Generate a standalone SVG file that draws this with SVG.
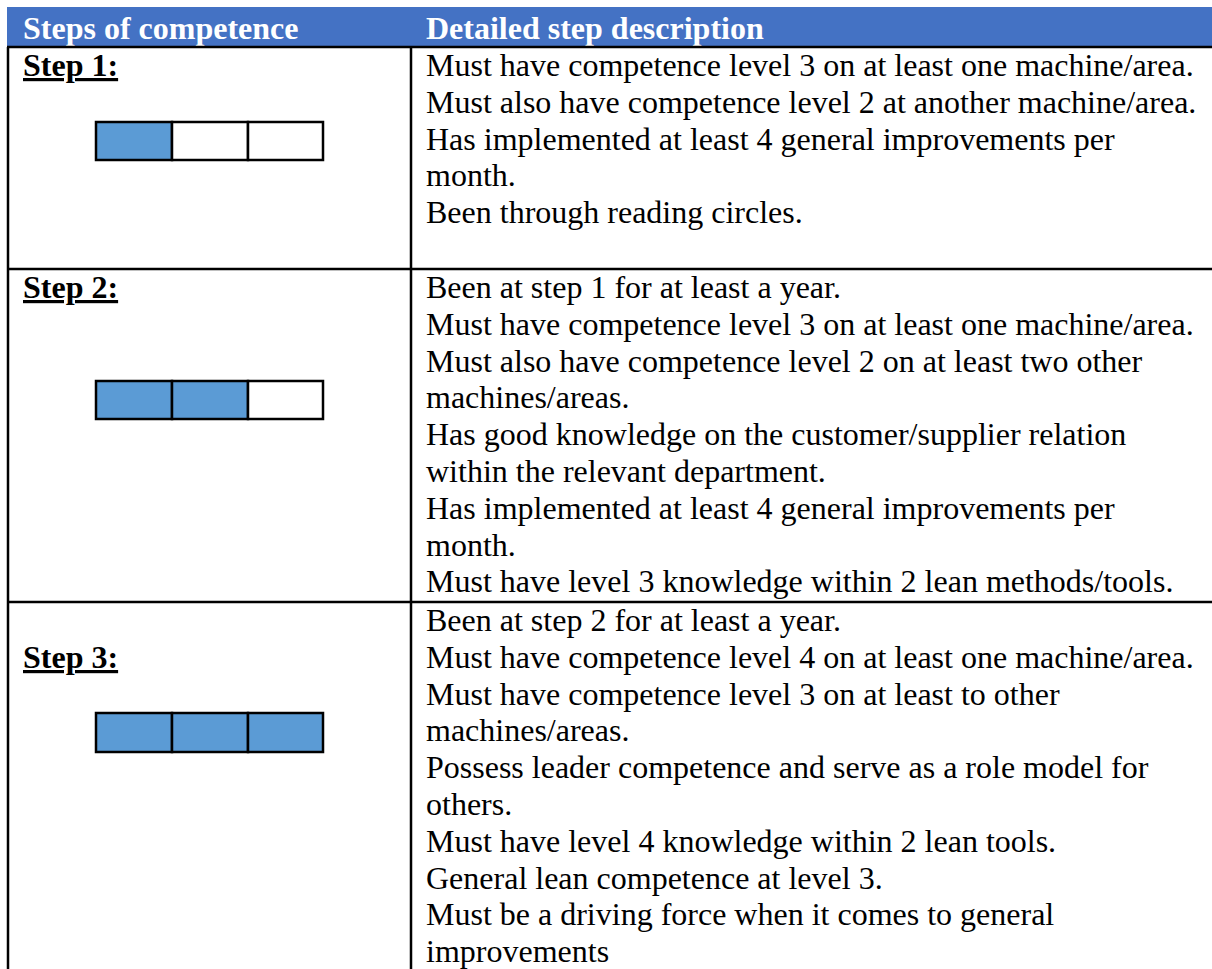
<svg xmlns="http://www.w3.org/2000/svg" width="1212" height="969" viewBox="0 0 1212 969">
<style>
.t{font-family:"Liberation Serif","Times New Roman",serif;font-size:32px;fill:#000}
.h{font-family:"Liberation Serif","Times New Roman",serif;font-size:32px;font-weight:bold;fill:#fff}
.s{font-family:"Liberation Serif","Times New Roman",serif;font-size:32px;font-weight:bold;fill:#000;text-decoration:underline}
.grid{stroke:#000;stroke-width:2.5;fill:none}
.cell{stroke:#000;stroke-width:2.5}
.on{fill:#5B9BD5}
.off{fill:#fff}
</style>
<rect x="7" y="7" width="1205" height="40" fill="#4472C4"/>
<g id="header">
<text class="h" x="23" y="39">Steps of competence</text>
<text class="h" x="426" y="39">Detailed step description</text>
</g>
<g id="grid" class="grid">
<line x1="7" y1="47" x2="1212" y2="47"/>
<line x1="8" y1="47" x2="8" y2="969"/>
<line x1="411" y1="47" x2="411" y2="969"/>
<line x1="7" y1="269" x2="1212" y2="269"/>
<line x1="7" y1="602" x2="1212" y2="602"/>
</g>
<g id="step1">
<text class="s" x="23" y="76">Step 1:</text>
<rect class="cell on" x="96" y="122" width="76" height="38"/>
<rect class="cell off" x="172" y="122" width="76" height="38"/>
<rect class="cell off" x="248" y="122" width="75" height="38"/>
<text class="t" x="426" y="76">Must have competence level 3 on at least one machine/area.</text>
<text class="t" x="426" y="112.8">Must also have competence level 2 at another machine/area.</text>
<text class="t" x="426" y="149.6">Has implemented at least 4 general improvements per</text>
<text class="t" x="426" y="186.4">month.</text>
<text class="t" x="426" y="223.2">Been through reading circles.</text>
</g>
<g id="step2">
<text class="s" x="23" y="298">Step 2:</text>
<rect class="cell on" x="96" y="381" width="76" height="38"/>
<rect class="cell on" x="172" y="381" width="76" height="38"/>
<rect class="cell off" x="248" y="381" width="75" height="38"/>
<text class="t" x="426" y="298">Been at step 1 for at least a year.</text>
<text class="t" x="426" y="334.8">Must have competence level 3 on at least one machine/area.</text>
<text class="t" x="426" y="371.6">Must also have competence level 2 on at least two other</text>
<text class="t" x="426" y="408.4">machines/areas.</text>
<text class="t" x="426" y="445.2">Has good knowledge on the customer/supplier relation</text>
<text class="t" x="426" y="482">within the relevant department.</text>
<text class="t" x="426" y="518.8">Has implemented at least 4 general improvements per</text>
<text class="t" x="426" y="555.6">month.</text>
<text class="t" x="426" y="592.4">Must have level 3 knowledge within 2 lean methods/tools.</text>
</g>
<g id="step3">
<text class="s" x="23" y="668">Step 3:</text>
<rect class="cell on" x="96" y="713" width="76" height="39"/>
<rect class="cell on" x="172" y="713" width="76" height="39"/>
<rect class="cell on" x="248" y="713" width="75" height="39"/>
<text class="t" x="426" y="631">Been at step 2 for at least a year.</text>
<text class="t" x="426" y="667.8">Must have competence level 4 on at least one machine/area.</text>
<text class="t" x="426" y="704.6">Must have competence level 3 on at least to other</text>
<text class="t" x="426" y="741.4">machines/areas.</text>
<text class="t" x="426" y="778.2">Possess leader competence and serve as a role model for</text>
<text class="t" x="426" y="815">others.</text>
<text class="t" x="426" y="851.8">Must have level 4 knowledge within 2 lean tools.</text>
<text class="t" x="426" y="888.6">General lean competence at level 3.</text>
<text class="t" x="426" y="925.4">Must be a driving force when it comes to general</text>
<text class="t" x="426" y="962.2">improvements</text>
</g>
</svg>
